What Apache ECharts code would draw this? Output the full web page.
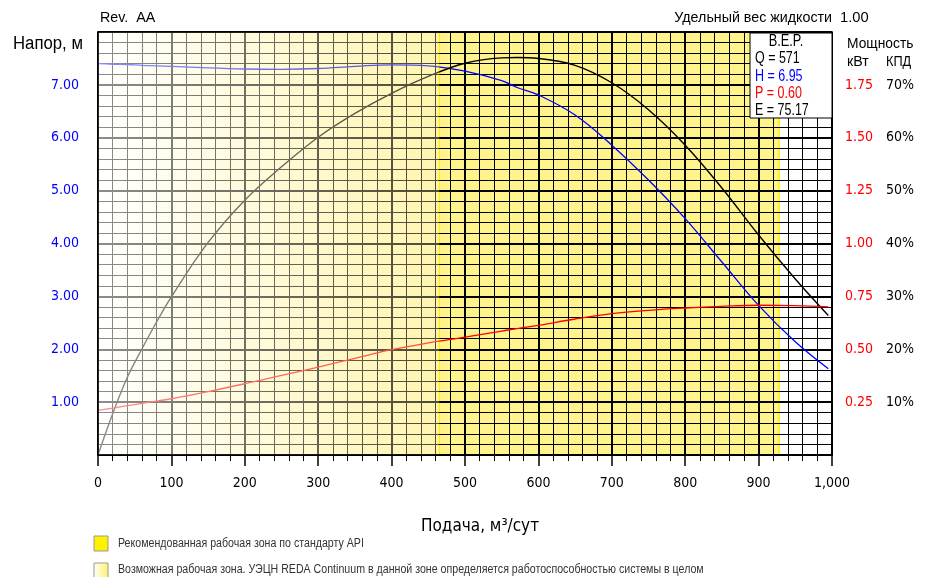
<!DOCTYPE html>
<html lang="ru">
<head>
<meta charset="UTF-8">
<title>REDA curve</title>
<script src="https://cdn.jsdelivr.net/npm/echarts@6/dist/echarts.min.js"></script>
<style>
  html, body { margin: 0; padding: 0; background: #fff; }
  #main { width: 926px; height: 577px; }
</style>
</head>
<body>
<div id="main"></div>
<script>
// подача, м3/сут
var qPoints = [0, 20, 40, 60, 80, 100, 150, 200, 250, 300, 350, 400, 450, 500, 550, 571, 600, 650, 700, 750, 800, 850, 900, 950, 995];
// напор, м
var headValues = [7.40, 7.39, 7.385, 7.37, 7.36, 7.35, 7.32, 7.30, 7.295, 7.31, 7.35, 7.38, 7.36, 7.26, 7.08, 6.95, 6.81, 6.43, 5.86, 5.20, 4.47, 3.65, 2.83, 2.14, 1.63];
// КПД, %
var effValues = [0, 7.8, 14.7, 20.1, 25.2, 29.9, 40.2, 48.2, 54.5, 60.1, 64.6, 68.4, 71.6, 74.1, 75.1, 75.17, 75.0, 73.7, 70.4, 65.3, 58.6, 50.5, 41.6, 33.3, 26.4];
// мощность, кВт
var powerValues = [0.211, 0.222, 0.233, 0.244, 0.255, 0.266, 0.300, 0.337, 0.376, 0.416, 0.457, 0.498, 0.530, 0.557, 0.586, 0.598, 0.613, 0.643, 0.668, 0.684, 0.695, 0.703, 0.708, 0.706, 0.700];

// рабочие зоны: возможная (градиент) и рекомендованная API
var possibleZone = [0, 465];
var apiZone = [465, 928];

var bep = { q: '571', h: '6.95', p: '0.60', e: '75.17' };
var fluidWeight = '1.00';

var FONT = "'DejaVu Sans Condensed', 'Liberation Sans', sans-serif";
var NARROW = "'Liberation Sans', Arial, sans-serif";

function zip(xs, ys) {
    return xs.map(function (x, i) { return [x, ys[i]]; });
}

// подпись сжатым шрифтом
function label(x, y, text, size, sx, color, align) {
    return {
        type: 'text', x: x, y: y, z: 11, scaleX: sx,
        style: { text: text, font: size + 'px ' + NARROW, fill: color || '#000', align: align || 'left', verticalAlign: 'middle' }
    };
}

var myChart = echarts.init(document.getElementById('main'));

function renderBase(params, api) {
    var cs = params.coordSys;
    var x0 = api.coord([api.value(0), 0])[0];
    var x1 = api.coord([api.value(1), 0])[0];
    var fill = api.value(2) === 0
        ? new echarts.graphic.LinearGradient(0, 0, 1, 0, [
            { offset: 0, color: '#ffffff' },
            { offset: 1, color: '#fff5b0' }])
        : '#fff38c';
    var rect = { type: 'rect', shape: { x: x0, y: cs.y, width: x1 - x0, height: cs.height }, style: { fill: fill } };
    if (api.value(2) === 1) {
        return { type: 'group', children: [rect,
            { type: 'line', shape: { x1: x0, y1: cs.y, x2: x0, y2: cs.y + cs.height }, style: { stroke: '#ffee00', lineWidth: 1.5 } },
            { type: 'line', shape: { x1: x1, y1: cs.y, x2: x1, y2: cs.y + cs.height }, style: { stroke: '#ffee00', lineWidth: 1.5 } }] };
    }
    return rect;
}

function renderFade(params, api) {
    var cs = params.coordSys;
    var x0 = api.coord([api.value(0), 0])[0];
    var x1 = api.coord([api.value(1), 0])[0];
    return {
        type: 'rect',
        shape: { x: x0, y: cs.y, width: x1 - x0, height: cs.height },
        style: {
            fill: new echarts.graphic.LinearGradient(0, 0, 1, 0, [
                { offset: 0, color: 'rgba(255,255,255,0.55)' },
                { offset: 1, color: 'rgba(255,245,176,0.3)' }])
        }
    };
}

var lineStyleMinor = { color: '#000', width: 1 };

option = {
    animation: false,
    textStyle: { fontFamily: FONT },
    grid: { left: 98, right: 94, top: 32, bottom: 122, show: true, z: 4, borderColor: '#000', borderWidth: 1.5, backgroundColor: 'transparent' },
    xAxis: {
        type: 'value', min: 0, max: 1000, interval: 100, z: 1,
        name: 'Подача, м³/сут', nameLocation: 'middle', nameGap: 63,
        nameTextStyle: { fontSize: 17, color: '#000', fontFamily: FONT, padding: [0, 0, 0, 30] },
        axisLine: { show: true, lineStyle: { color: '#000', width: 1.5 } },
        axisTick: { show: true, length: 11, lineStyle: { color: '#000', width: 1.5 } },
        minorTick: { show: true, splitNumber: 5, length: 6, lineStyle: { color: '#000', width: 1 } },
        axisLabel: { fontSize: 14, color: '#000', margin: 21, fontFamily: FONT,
            formatter: function (v) { return v === 1000 ? '1,000' : String(v); } },
        splitLine: { show: true, lineStyle: { color: '#000', width: 2 } },
        minorSplitLine: { show: true, lineStyle: lineStyleMinor }
    },
    yAxis: [{
        type: 'value', min: 0, max: 8, interval: 1, z: 1,
        axisLine: { show: true, lineStyle: { color: '#000', width: 1.5 } },
        axisTick: { show: false },
        minorTick: { show: false, splitNumber: 5 },
        axisLabel: { fontSize: 14, color: '#0000ff', margin: 19, fontFamily: FONT,
            formatter: function (v) { return (v === 0 || v === 8) ? '' : v.toFixed(2); } },
        splitLine: { show: true, lineStyle: { color: '#000', width: 2 } },
        minorSplitLine: { show: true, lineStyle: lineStyleMinor }
    }, {
        type: 'value', min: 0, max: 2, interval: 0.25, position: 'right',
        axisLine: { show: false }, axisTick: { show: false }, splitLine: { show: false },
        axisLabel: { fontSize: 14, color: '#ff0000', margin: 41, align: 'right', fontFamily: FONT,
            formatter: function (v) { return (v === 0 || v === 2) ? '' : v.toFixed(2); } }
    }, {
        type: 'value', min: 0, max: 80, interval: 10, position: 'right',
        axisLine: { show: false }, axisTick: { show: false }, splitLine: { show: false },
        axisLabel: { fontSize: 14, color: '#000', margin: 54, align: 'left', fontFamily: FONT,
            formatter: function (v) { return (v === 0 || v === 80) ? '' : v + '%'; } }
    }],
    series: [{
        name: 'zones', type: 'custom', z: 0, silent: true,
        renderItem: renderBase,
        encode: { x: [0, 1] },
        data: [[possibleZone[0], possibleZone[1], 0], [apiZone[0], apiZone[1], 1]]
    }, {
        name: 'Напор', type: 'line', yAxisIndex: 0, smooth: 0.4, showSymbol: false, z: 2,
        lineStyle: { color: '#0000ff', width: 1.3 },
        data: zip(qPoints, headValues)
    }, {
        name: 'КПД', type: 'line', yAxisIndex: 2, smooth: 0.4, showSymbol: false, z: 2,
        lineStyle: { color: '#000000', width: 1.4 },
        data: zip(qPoints, effValues)
    }, {
        name: 'Мощность', type: 'line', yAxisIndex: 1, smooth: 0.4, showSymbol: false, z: 2,
        lineStyle: { color: '#ff0000', width: 1.3 },
        data: zip(qPoints, powerValues)
    }, {
        name: 'fade', type: 'custom', z: 3, silent: true,
        renderItem: renderFade,
        encode: { x: [0, 1] },
        data: [[possibleZone[0], possibleZone[1]]]
    }],
    graphic: [
        label(100, 18, 'Rev.  AA', 15, 0.95),
        label(13, 44, 'Напор, м', 18, 0.93),
        label(832, 18, 'Удельный вес жидкости', 15, 0.95, '#000', 'right'),
        label(840, 18, fluidWeight, 15, 0.98),
        label(847, 44, 'Мощность', 15, 0.92),
        label(847, 62, 'кВт', 15, 0.95),
        label(886, 62, 'КПД', 15, 0.85),
        // B.E.P.
        { type: 'rect', z: 10, shape: { x: 750, y: 33, width: 82, height: 85 }, style: { fill: '#fff', stroke: '#000', lineWidth: 1 } },
        label(786, 42, 'B.E.P.', 16, 0.8, '#000', 'center'),
        label(755, 59, 'Q = ' + bep.q, 16, 0.78),
        label(755, 77, 'H = ' + bep.h, 16, 0.78, '#0000ff'),
        label(755, 94, 'P = ' + bep.p, 16, 0.78, '#ff0000'),
        label(755, 111, 'E = ' + bep.e, 16, 0.78),
        // легенда
        { type: 'rect', z: 10, shape: { x: 94, y: 536, width: 14, height: 15 }, style: { fill: '#fff200', stroke: '#999', lineWidth: 1 } },
        label(118, 544, 'Рекомендованная рабочая зона по стандарту API', 12.5, 0.85, '#333'),
        { type: 'rect', z: 10, shape: { x: 94, y: 563, width: 14, height: 15 },
          style: { fill: new echarts.graphic.LinearGradient(0, 0, 1, 0, [{ offset: 0, color: '#ffffff' }, { offset: 1, color: '#fff26a' }]), stroke: '#999', lineWidth: 1 } },
        label(118, 570, 'Возможная рабочая зона. УЭЦН REDA Continuum в данной зоне определяется работоспособностью системы в целом', 12.5, 0.85, '#333')
    ]
};

myChart.setOption(option);
</script>
</body>
</html>
